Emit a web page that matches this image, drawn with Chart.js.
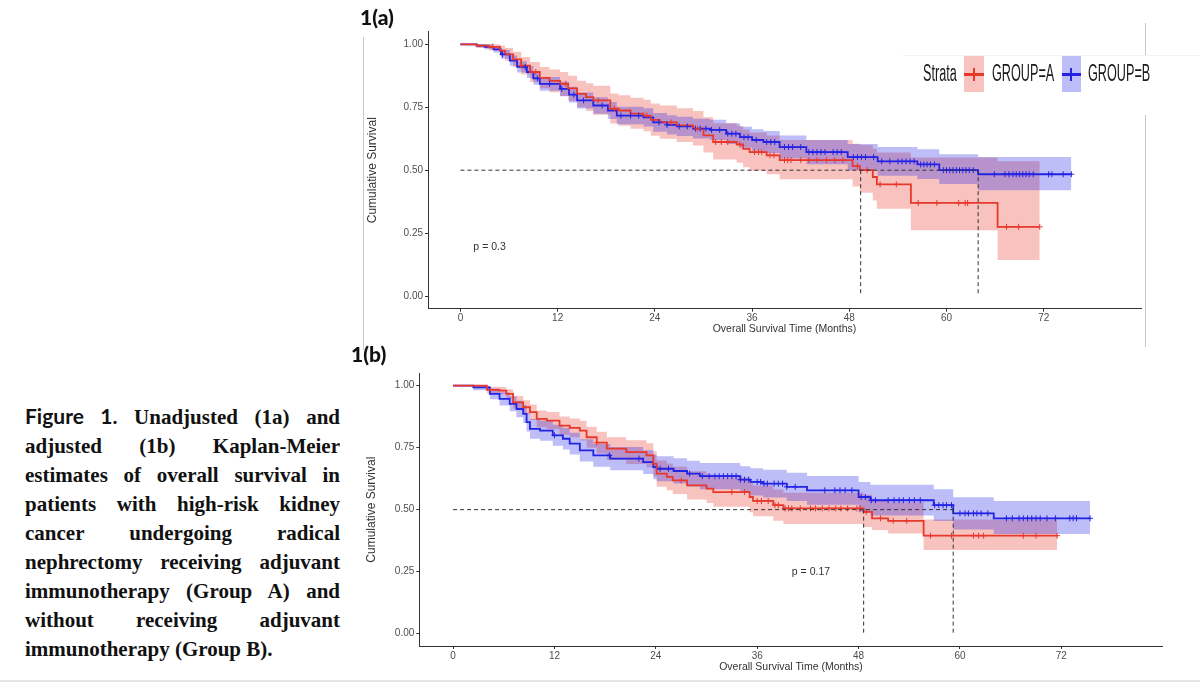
<!DOCTYPE html>
<html>
<head>
<meta charset="utf-8">
<script src="https://cdn.jsdelivr.net/npm/chart.js@4.4.0/dist/chart.umd.min.js"></script>
<style>
  body { margin: 0; width: 1200px; height: 682px; background: #fff; position: relative; overflow: hidden; }
  .abs { position: absolute; }
  .panel { position: absolute; font: 900 21px Lato, "Open Sans", sans-serif; color: #111; }
  #caption { position: absolute; left: 25px; top: 401px; width: 315px; font: bold 21px "Liberation Serif", "Times New Roman", serif; color: #111; line-height: 29px; }
  #caption div { text-align: justify; text-align-last: justify; }
  #caption div.last { text-align: left; text-align-last: left; }
  #caption .sans { font-family: Lato, "Open Sans", sans-serif; }
  .lg { position: absolute; font: 23px "Liberation Sans", Arial, sans-serif; line-height: 23px; color: #1a1a1a; transform: scaleX(0.55); transform-origin: 0 50%; white-space: nowrap; }
</style>
</head>
<body>

<!-- frame lines from the source figure -->
<div class="abs" style="left:363px;top:37px;width:1px;height:313px;background:#c8c8c8"></div>
<div class="abs" style="left:1145px;top:23px;width:1px;height:32px;background:#c8c8c8"></div>
<div class="abs" style="left:1145px;top:115px;width:1px;height:232px;background:#c8c8c8"></div>
<div class="abs" style="left:903px;top:55px;width:297px;height:1px;background:#f3f3f3"></div>
<div class="abs" style="left:0;top:680px;width:1200px;height:2px;background:#e6e6e6"></div>

<canvas id="chartA" class="abs" style="left:360px;top:20px"></canvas>
<canvas id="chartB" class="abs" style="left:350px;top:360px"></canvas>

<div class="panel" style="left:360px;top:4px">1(a)</div>
<div class="panel" style="left:351px;top:341px">1(b)</div>

<!-- legend -->
<div class="lg" style="left:923px;top:62px">Strata</div>
<div class="abs" style="left:964px;top:56px;width:20px;height:36px;background:rgba(232,56,44,0.3)"></div>
<div class="abs" style="left:964px;top:73px;width:20px;height:3px;background:#E8382C"></div>
<div class="abs" style="left:973px;top:68px;width:2px;height:13px;background:#E8382C"></div>
<div class="lg" style="left:992px;top:62px">GROUP=A</div>
<div class="abs" style="left:1062px;top:56px;width:19px;height:36px;background:rgba(35,35,227,0.3)"></div>
<div class="abs" style="left:1062px;top:73px;width:19px;height:3px;background:#2323E3"></div>
<div class="abs" style="left:1070px;top:68px;width:2px;height:13px;background:#2323E3"></div>
<div class="lg" style="left:1088px;top:62px">GROUP=B</div>

<div id="caption">
  <div><span class="sans">Figure 1.</span> Unadjusted (1a) and</div>
  <div>adjusted (1b) Kaplan-Meier</div>
  <div>estimates of overall survival in</div>
  <div>patients with high-risk kidney</div>
  <div>cancer undergoing radical</div>
  <div>nephrectomy receiving adjuvant</div>
  <div>immunotherapy (Group A) and</div>
  <div>without receiving adjuvant</div>
  <div class="last">immunotherapy (Group B).</div>
</div>

<script>
// axis ticks shared by both panels
const xTicks = [0, 12, 24, 36, 48, 60, 72];
const yTicks = [0, 0.25, 0.5, 0.75, 1];

// ---- panel 1(a), unadjusted ----
// group A (red)
const aTimeA = [0, 2.0, 3.5, 4.9, 5.5, 6.5, 7.5, 8.6, 9.8, 11.0, 12.3, 13.3, 14.4, 15.5, 16.4, 18.5, 19.5, 21.0, 22.6, 23.5, 24.6, 26.7, 28.7, 30.0, 31.2, 34.1, 34.9, 35.7, 37.8, 39.4, 48.4, 49.3, 50.9, 51.4, 55.6, 66.3, 71.5];
const aSurvA = [1, 0.995, 0.99, 0.975, 0.96, 0.94, 0.915, 0.89, 0.867, 0.855, 0.843, 0.825, 0.803, 0.79, 0.777, 0.744, 0.737, 0.725, 0.717, 0.70, 0.69, 0.678, 0.665, 0.638, 0.612, 0.602, 0.585, 0.572, 0.559, 0.54, 0.516, 0.50, 0.473, 0.444, 0.37, 0.275, 0.275];
const aLowA  = [1, 0.985, 0.975, 0.955, 0.935, 0.91, 0.88, 0.85, 0.825, 0.81, 0.795, 0.775, 0.75, 0.735, 0.72, 0.685, 0.677, 0.665, 0.655, 0.637, 0.625, 0.612, 0.598, 0.57, 0.542, 0.53, 0.512, 0.498, 0.484, 0.464, 0.435, 0.41, 0.38, 0.347, 0.262, 0.143, 0.143];
const aHighA = [1, 1, 1, 0.995, 0.985, 0.97, 0.95, 0.93, 0.91, 0.90, 0.89, 0.875, 0.855, 0.845, 0.835, 0.805, 0.798, 0.788, 0.78, 0.765, 0.757, 0.746, 0.735, 0.71, 0.686, 0.677, 0.662, 0.65, 0.638, 0.62, 0.605, 0.60, 0.585, 0.57, 0.55, 0.536, 0.536];
const aCensA = [4, 7.5, 9.3, 13, 17, 19, 23, 26, 29.3, 31.5, 32.2, 33, 34.5, 36.3, 36.8, 37.2, 38.2, 38.7, 40, 40.4, 40.8, 42, 43, 44, 45.2, 46.2, 47.2, 49, 50.2, 51.8, 53.8, 56.5, 58.8, 61.5, 62.3, 62.6, 67.4, 68.9, 71.5];
// group B (blue)
const aTimeB = [0, 2.0, 3.0, 4.1, 5.0, 6.1, 7.0, 8.2, 9.0, 9.8, 12.3, 13.4, 14.4, 16.4, 18.2, 19.3, 22.6, 23.8, 25.5, 26.7, 28.7, 30.8, 32.8, 34.5, 36.0, 37.4, 39.4, 42.7, 47.8, 51.5, 56.4, 59.1, 63.9, 75.4];
const aSurvB = [1, 0.995, 0.99, 0.98, 0.96, 0.935, 0.91, 0.89, 0.865, 0.843, 0.823, 0.80, 0.777, 0.757, 0.737, 0.717, 0.71, 0.69, 0.68, 0.674, 0.665, 0.66, 0.645, 0.631, 0.62, 0.612, 0.592, 0.572, 0.552, 0.535, 0.523, 0.50, 0.484, 0.484];
const aLowB  = [1, 0.988, 0.98, 0.967, 0.943, 0.915, 0.888, 0.866, 0.839, 0.816, 0.794, 0.769, 0.745, 0.724, 0.703, 0.682, 0.674, 0.653, 0.642, 0.636, 0.626, 0.62, 0.604, 0.589, 0.577, 0.568, 0.546, 0.524, 0.50, 0.478, 0.465, 0.445, 0.42, 0.42];
const aHighB = [1, 1, 1, 0.993, 0.977, 0.955, 0.933, 0.914, 0.891, 0.87, 0.852, 0.831, 0.809, 0.79, 0.771, 0.752, 0.746, 0.727, 0.718, 0.712, 0.704, 0.70, 0.686, 0.673, 0.663, 0.656, 0.638, 0.62, 0.604, 0.592, 0.583, 0.563, 0.552, 0.552];
const aCensB = [5.2, 8, 9.5, 11, 12.5, 14, 15.2, 17.5, 19.8, 21, 22, 24.5, 25.5, 27, 28, 29, 29.6, 30.3, 31, 32, 33, 33.5, 34, 35, 35.5, 36.5, 37.8, 38.3, 38.8, 40, 40.5, 41, 42, 43, 43.5, 44, 44.5, 45, 46, 46.5, 47, 48.5, 49, 49.5, 50, 51, 52, 53, 54, 54.5, 55, 55.5, 56, 56.8, 57.2, 57.6, 58, 58.5, 59.6, 60, 60.4, 60.8, 61.2, 61.6, 62, 62.4, 62.8, 63.3, 65.9, 67.2, 67.7, 68.2, 68.6, 69, 69.4, 69.8, 70.2, 70.7, 72.6, 73, 74.4, 75.4];
const aMedians = [49.4, 63.9];

// ---- panel 1(b), adjusted ----
const bTimeA = [0, 4.0, 5.5, 6.3, 7.1, 8.3, 9.1, 9.9, 11.1, 12.6, 13.8, 15.0, 15.8, 17.0, 18.2, 20.5, 22.9, 23.7, 24.1, 25.3, 26.0, 27.7, 30.0, 30.8, 35.1, 35.5, 37.9, 39.1, 48.6, 49.6, 51.5, 55.7, 71.5];
const bSurvA = [1, 0.983, 0.98, 0.967, 0.933, 0.913, 0.893, 0.866, 0.859, 0.839, 0.83, 0.819, 0.792, 0.77, 0.746, 0.732, 0.719, 0.685, 0.645, 0.632, 0.618, 0.598, 0.585, 0.571, 0.551, 0.535, 0.518, 0.505, 0.491, 0.465, 0.455, 0.395, 0.395];
const bLowA  = [1, 0.97, 0.965, 0.948, 0.908, 0.885, 0.862, 0.832, 0.824, 0.802, 0.792, 0.779, 0.75, 0.726, 0.70, 0.684, 0.67, 0.634, 0.592, 0.578, 0.563, 0.541, 0.527, 0.512, 0.49, 0.473, 0.455, 0.442, 0.43, 0.418, 0.404, 0.337, 0.337];
const bHighA = [1, 0.996, 0.995, 0.986, 0.958, 0.941, 0.924, 0.90, 0.894, 0.876, 0.868, 0.859, 0.834, 0.814, 0.792, 0.78, 0.768, 0.736, 0.698, 0.686, 0.673, 0.655, 0.643, 0.63, 0.612, 0.597, 0.581, 0.568, 0.56, 0.54, 0.53, 0.46, 0.46];
const bCensA = [17, 27, 33, 34.5, 36, 36.5, 37.3, 38.1, 38.5, 39.3, 39.7, 40.1, 41.1, 42.3, 42.9, 43.7, 44.5, 45.3, 45.9, 46.7, 47.8, 48.2, 48.9, 50.6, 52.1, 53.7, 56.5, 59, 61.6, 62.2, 62.8, 67.5, 69, 71.5];
const bTimeB = [0, 2.4, 4.35, 5.5, 6.7, 7.5, 8.3, 8.7, 9.1, 10.3, 11.8, 13.0, 13.8, 15.0, 16.6, 18.6, 22.5, 23.7, 24.1, 26.1, 27.7, 29.2, 34.0, 35.2, 36.7, 39.5, 41.9, 48.0, 49.4, 56.9, 59.2, 64.0, 75.4];
const bSurvB = [1, 0.993, 0.967, 0.947, 0.927, 0.906, 0.886, 0.853, 0.826, 0.819, 0.80, 0.786, 0.766, 0.739, 0.719, 0.706, 0.692, 0.672, 0.665, 0.656, 0.645, 0.635, 0.621, 0.612, 0.605, 0.592, 0.578, 0.551, 0.538, 0.518, 0.485, 0.465, 0.465];
const bLowB  = [1, 0.982, 0.945, 0.92, 0.897, 0.873, 0.85, 0.815, 0.786, 0.778, 0.758, 0.743, 0.722, 0.694, 0.673, 0.659, 0.644, 0.623, 0.615, 0.605, 0.593, 0.582, 0.567, 0.557, 0.549, 0.535, 0.52, 0.49, 0.476, 0.454, 0.42, 0.402, 0.402];
const bHighB = [1, 1, 0.989, 0.974, 0.957, 0.939, 0.922, 0.891, 0.866, 0.86, 0.842, 0.829, 0.81, 0.784, 0.765, 0.753, 0.74, 0.721, 0.715, 0.707, 0.697, 0.688, 0.675, 0.667, 0.661, 0.649, 0.636, 0.612, 0.60, 0.582, 0.55, 0.535, 0.535];
const bCensB = [12, 18.5, 22, 24.5, 25.5, 28, 29.5, 30.3, 31, 31.5, 32, 32.5, 33, 33.5, 34, 34.5, 35, 36, 36.4, 36.8, 37.2, 38, 38.5, 39, 39.5, 40.5, 44, 45.2, 45.8, 46.4, 47.2, 48.3, 48.8, 49.5, 50, 51.5, 52.2, 52.8, 53.3, 54, 54.6, 55.3, 57, 57.5, 58, 58.4, 59, 60, 60.6, 61, 61.6, 62, 62.5, 63.3, 65.5, 66.2, 67, 67.5, 68, 68.5, 69, 69.5, 70.3, 71.3, 73, 73.4, 73.8, 75.4];
const bMedians = [48.6, 59.2];

const RED = '#E8382C', BLUE = '#2323E3';
const RED_BAND = 'rgba(232,56,44,0.3)', BLUE_BAND = 'rgba(35,35,227,0.3)';
const SANS = '"Liberation Sans", Arial, sans-serif';

// survival value at time t (step function)
function survAt(times, surv, t) {
  let v = surv[0];
  for (let i = 0; i < times.length; i++) {
    if (times[i] <= t) v = surv[i];
  }
  return v;
}

function pts(times, vals) {
  return times.map((t, i) => ({ x: t, y: vals[i] }));
}

// median lines + p value text
const annotPlugin = {
  id: 'annot',
  afterDatasetsDraw(chart, args, o) {
    const { ctx } = chart;
    const x = chart.scales.x, y = chart.scales.y;
    ctx.save();
    ctx.strokeStyle = '#333';
    ctx.lineWidth = 1;
    ctx.setLineDash([4, 3]);
    const y5 = y.getPixelForValue(0.5), y0 = y.getPixelForValue(0);
    ctx.beginPath();
    ctx.moveTo(x.getPixelForValue(0), y5);
    ctx.lineTo(x.getPixelForValue(Math.max(...o.medians)), y5);
    o.medians.forEach(m => {
      const px = x.getPixelForValue(m);
      ctx.moveTo(px, y5);
      ctx.lineTo(px, y0);
    });
    ctx.stroke();
    ctx.setLineDash([]);
    ctx.fillStyle = '#333';
    ctx.font = '10.5px ' + SANS;
    ctx.textBaseline = 'middle';
    ctx.fillText(o.pText, x.getPixelForValue(o.pPos[0]), y.getPixelForValue(o.pPos[1]));
    ctx.restore();
  }
};

function makeChart(id, d, lay) {
  const canvas = document.getElementById(id);
  canvas.width = lay.w; canvas.height = lay.h;
  canvas.style.width = lay.w + 'px'; canvas.style.height = lay.h + 'px';

  const datasets = [
    { data: pts(d.timeA, d.survA), borderColor: RED, borderWidth: 1.8, stepped: 'before', pointRadius: 0, fill: false, order: 1 },
    { data: pts(d.timeB, d.survB), borderColor: BLUE, borderWidth: 1.8, stepped: 'before', pointRadius: 0, fill: false, order: 1 },
    { data: d.censA.map(t => ({ x: t, y: survAt(d.timeA, d.survA, t) })), showLine: false, pointStyle: 'cross', pointRadius: 3, pointBorderWidth: 1, borderColor: RED, order: 0 },
    { data: d.censB.map(t => ({ x: t, y: survAt(d.timeB, d.survB, t) })), showLine: false, pointStyle: 'cross', pointRadius: 3, pointBorderWidth: 1, borderColor: BLUE, order: 0 },
    { data: pts(d.timeA, d.highA), borderWidth: 0, stepped: 'before', pointRadius: 0, fill: false, order: 3 },
    { data: pts(d.timeA, d.lowA), borderWidth: 0, stepped: 'before', pointRadius: 0, fill: '-1', backgroundColor: RED_BAND, order: 3 },
    { data: pts(d.timeB, d.highB), borderWidth: 0, stepped: 'before', pointRadius: 0, fill: false, order: 2 },
    { data: pts(d.timeB, d.lowB), borderWidth: 0, stepped: 'before', pointRadius: 0, fill: '-1', backgroundColor: BLUE_BAND, order: 2 }
  ];

  return new Chart(canvas, {
    type: 'line',
    data: { datasets: datasets },
    plugins: [annotPlugin],
    options: {
      responsive: false,
      animation: false,
      layout: { padding: { top: lay.padTop, right: lay.padRight, left: 0, bottom: 0 } },
      plugins: {
        legend: { display: false },
        tooltip: { enabled: false },
        annot: { medians: d.medians, pText: d.pText, pPos: d.pPos }
      },
      scales: {
        x: {
          type: 'linear', min: -4, max: 84,
          afterBuildTicks: s => { s.ticks = xTicks.map(v => ({ value: v })); },
          afterFit: s => { s.height = lay.xh; },
          grid: { drawOnChartArea: false, drawTicks: true, tickLength: 3, color: '#333' },
          border: { display: true, color: '#333', width: 1 },
          ticks: { color: '#4d4d4d', font: { size: 10, family: SANS }, padding: 1, maxRotation: 0 },
          title: { display: true, text: 'Overall Survival Time (Months)', color: '#333', font: { size: 10.5, family: SANS }, padding: { top: 0, bottom: lay.xTitlePad } }
        },
        y: {
          type: 'linear', min: -0.05, max: 1.05,
          afterBuildTicks: s => { s.ticks = yTicks.map(v => ({ value: v })); },
          afterFit: s => { s.width = lay.yw; },
          grid: { drawOnChartArea: false, drawTicks: true, tickLength: 3, color: '#333' },
          border: { display: true, color: '#333', width: 1 },
          ticks: { color: '#4d4d4d', font: { size: 10, family: SANS }, padding: 2, callback: v => v.toFixed(2) },
          title: { display: true, text: 'Cumulative Survival', color: '#333', font: { size: 12, family: SANS }, padding: { top: lay.yTitlePad, bottom: 0 } }
        }
      }
    }
  });
}

makeChart('chartA', {
  timeA: aTimeA, survA: aSurvA, lowA: aLowA, highA: aHighA, censA: aCensA,
  timeB: aTimeB, survB: aSurvB, lowB: aLowB, highB: aHighB, censB: aCensB,
  medians: aMedians, pText: 'p = 0.3', pPos: [1.6, 0.194]
}, { w: 800, h: 322, padTop: 11.7, padRight: 19, yw: 68, xh: 33.3, xTitlePad: 6.7, yTitlePad: 5.8 });

makeChart('chartB', {
  timeA: bTimeA, survA: bSurvA, lowA: bLowA, highA: bHighA, censA: bCensA,
  timeB: bTimeB, survB: bSurvB, lowB: bLowB, highB: bHighB, censB: bCensB,
  medians: bMedians, pText: 'p = 0.17', pPos: [40.1, 0.25]
}, { w: 830, h: 320, padTop: 13.3, padRight: 17.3, yw: 69.3, xh: 34, xTitlePad: 7, yTitlePad: 14.5 });
</script>
</body>
</html>
